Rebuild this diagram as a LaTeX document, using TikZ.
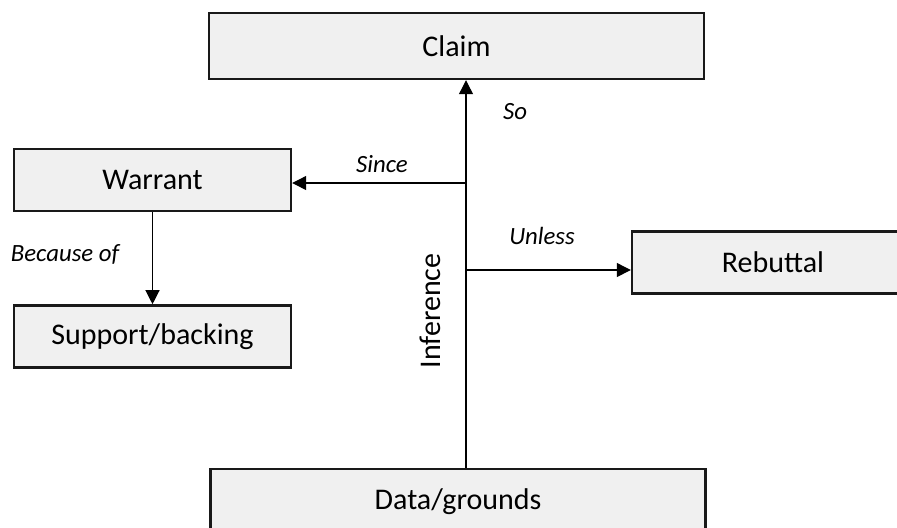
\documentclass[tikz,border=0pt]{standalone}
\usepackage{fontspec}
\setmainfont{Carlito}
\usetikzlibrary{positioning,arrows.meta}

\begin{document}
\begin{tikzpicture}[x=0.5pt,y=-0.5pt]
		\tikzstyle{box}=[rectangle, draw=black!90, line width=1.2pt, fill=black!6, inner sep=0pt, font=\fontsize{15}{18}\selectfont]
		\tikzstyle{wide}=[box, minimum width=247.5pt, minimum height=33pt]
		\tikzstyle{side}=[box, minimum width=138.5pt, minimum height=31pt]
		\tikzstyle{connect}=[-{Triangle[length=7pt,width=7pt]}, line width=0.6pt]
		\tikzstyle{word}=[inner sep=0pt, font=\fontsize{12.4}{14}\selectfont\itshape]
		\useasboundingbox (0,0) rectangle (897,527);
		\clip (0,0) rectangle (897,527);
		\node[wide] (claim) at (456.5,46) {Claim};
		\node[wide] (data) at (458,502) {Data/grounds};
		
		\node[side] (warrant) at (152.5,180) {Warrant};
		\node[side] (support) [below=46pt of warrant] {Support/backing};
		
		\node[side, minimum width=141pt] (rebuttal) at (773,262.5) {Rebuttal};
		
		\coordinate (since) at (466,183);
		\coordinate (unless) at (466,270);
		
		\draw[connect] (data.north -| since) -- (claim.south -| since);
		\draw[connect] (since) -- (warrant.east |- since);
		\draw[connect] (unless) -- (rebuttal.west |- unless);
		\draw[connect] (warrant.south) -- (support.north);
		
		\node[word] (so) at (515,112) {So};
		\node[word] (sincetext) at (382,164) {Since};
		\node[word] (unlesstext) at (542,236) {Unless};
		\node[word] (because) at (65,254) {Because of};
		\node[rotate=90, inner sep=0pt, font=\fontsize{15}{18}\selectfont] (inference) at (430,311) {Inference};

	\end{tikzpicture}
\end{document}
